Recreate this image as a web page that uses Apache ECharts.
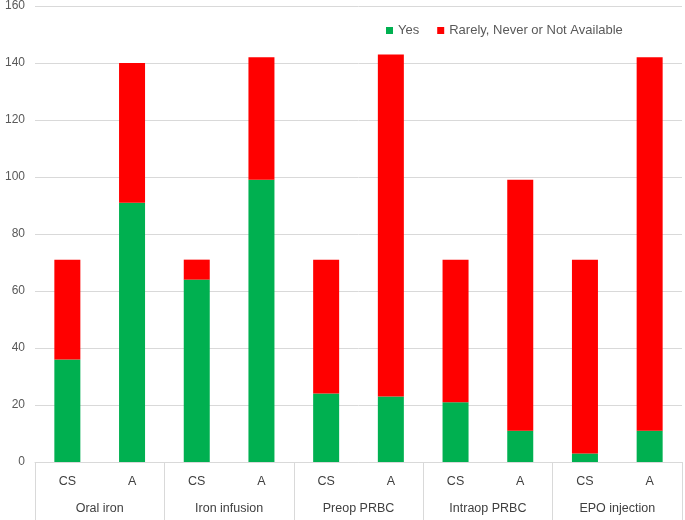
<!DOCTYPE html>
<html><head><meta charset="utf-8">
<script src="https://cdn.jsdelivr.net/npm/echarts@6/dist/echarts.min.js"></script>
<style>html,body{margin:0;padding:0;background:#fff}#c{width:685px;height:520px}</style>
</head><body><div id="c"></div>
<script>
const groups = ['Oral iron','Iron infusion','Preop PRBC','Intraop PRBC','EPO injection'];
const subCats = ['CS','A','CS','A','CS','A','CS','A','CS','A'];
const yesVals = [36, 91, 64, 99, 24, 23, 21, 11, 3, 11];
const rarelyVals = [35, 49, 7, 43, 47, 120, 50, 88, 68, 131];
const seriesNames = ['Yes','Rarely, Never or Not Available'];
const yTicks = {min:0, max:160, interval:20};

const font = 'Liberation Sans';
const chart = echarts.init(document.getElementById('c'));
chart.setOption({
  animation:false,
  textStyle:{fontFamily:font},
  legend:{
    data:seriesNames, left:381, top:19, itemWidth:7, itemHeight:7, itemGap:18,
    icon:'rect', textStyle:{fontFamily:font, fontSize:13, color:'#595959'}
  },
  grid:{left:35, right:3, top:6, bottom:58, containLabel:false},
  xAxis:[
    {type:'category', data:subCats, axisLine:{lineStyle:{color:'#d9d9d9'}},
     axisTick:{show:false}, axisLabel:{interval:0, margin:13, color:'#404040', fontSize:12.5, fontFamily:font}},
    {type:'category', data:groups, position:'bottom', axisLine:{show:false},
     axisTick:{show:true, interval:0, length:58, lineStyle:{color:'#d9d9d9'}},
     axisLabel:{interval:0, margin:40, color:'#404040', fontSize:12.5, fontFamily:font}}
  ],
  yAxis:{type:'value', min:yTicks.min, max:yTicks.max, interval:yTicks.interval,
    axisLine:{show:false}, axisTick:{show:false},
    splitLine:{lineStyle:{color:'#d9d9d9'}},
    axisLabel:{margin:10, color:'#595959', fontSize:12, fontFamily:font}},
  series:[
    {name:seriesNames[0], type:'bar', stack:'s', data:yesVals, xAxisIndex:0, barWidth:26,
     itemStyle:{color:'#00B050'}},
    {name:seriesNames[1], type:'bar', stack:'s', data:rarelyVals, xAxisIndex:0, barWidth:26,
     itemStyle:{color:'#FF0000'}}
  ]
});
</script></body></html>
